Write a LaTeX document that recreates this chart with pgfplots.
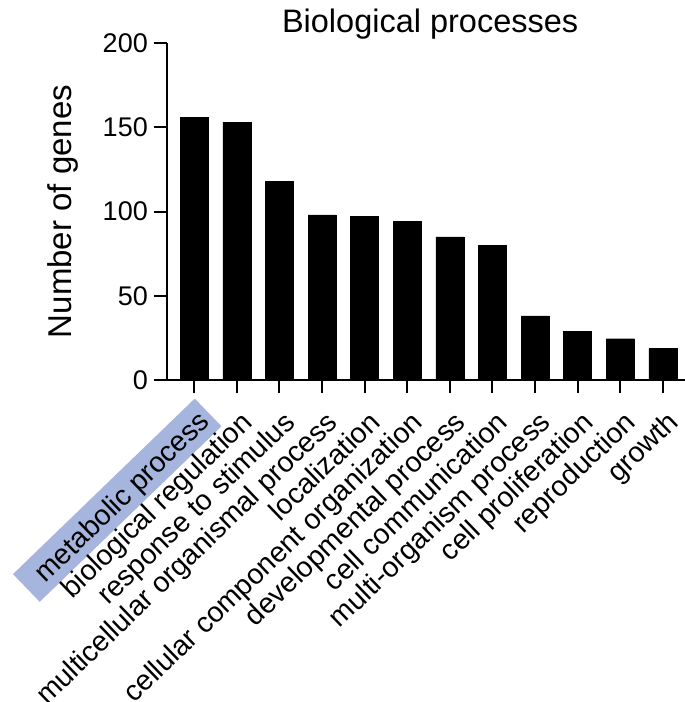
\documentclass[border=0pt]{standalone}
\usepackage{fontspec}
\setmainfont{Liberation Sans}
\usepackage{pgfplots}
\pgfplotsset{compat=1.18}
\definecolor{hl}{RGB}{166,181,222}
\setlength{\fboxsep}{0pt}
\begin{document}
\begin{tikzpicture}
\begin{axis}[
  at={(0pt,0pt)}, anchor=south west,
  scale only axis, width=518pt, height=337pt,
  xmin=-0.64, xmax=11.52, ymin=0, ymax=200,
  axis x line*=bottom, axis y line*=left,
  axis line style={-, line width=2pt, black},
  ytick={0,50,100,150,200},
  xtick={0,1,2,3,4,5,6,7,8,9,10,11},
  xticklabels={{\raisebox{0pt}[20.4pt][6pt]{\colorbox{hl}{\hspace*{17pt}\rule[-9pt]{0pt}{38.5pt}metabolic process\hspace*{6pt}}}\hspace*{-6pt}},biological regulation,response to stimulus,multicellular organismal process,localization,cellular component organization,developmental process,cell communication,multi-organism process,cell proliferation,reproduction,growth},
  tick align=outside, major tick length=13pt,
  tick style={line width=2pt, black},
  /pgf/number format/assume math mode=true,
  yticklabel style={font=\fontsize{27}{30}\selectfont, inner sep=0pt, xshift=-6pt},
  xticklabel style={font=\fontsize{28.5}{30}\selectfont, xshift=2.5pt, yshift=-16pt, rotate=44, anchor=north east, inner sep=0pt},
  title={Biological processes},
  title style={font=\fontsize{32.5}{36}\selectfont, at={(axis description cs:0.508,1)}, anchor=base, yshift=5pt},
  ylabel={Number of genes},
  ylabel style={font=\fontsize{33}{36}\selectfont, at={(axis description cs:-0.2,0.5)}, anchor=center},
]
\addplot[ybar, bar width=28pt, bar shift=0pt, fill=black, draw=black] coordinates {
(0,156) (1,153) (2,118) (3,98) (4,97) (5,94) (6,85) (7,80) (8,38) (9,29) (10,24.5) (11,18.6)
};
\end{axis}
\pgfresetboundingbox
\useasboundingbox (-167pt,-322pt) rectangle (518pt,380pt);
\end{tikzpicture}
\end{document}
